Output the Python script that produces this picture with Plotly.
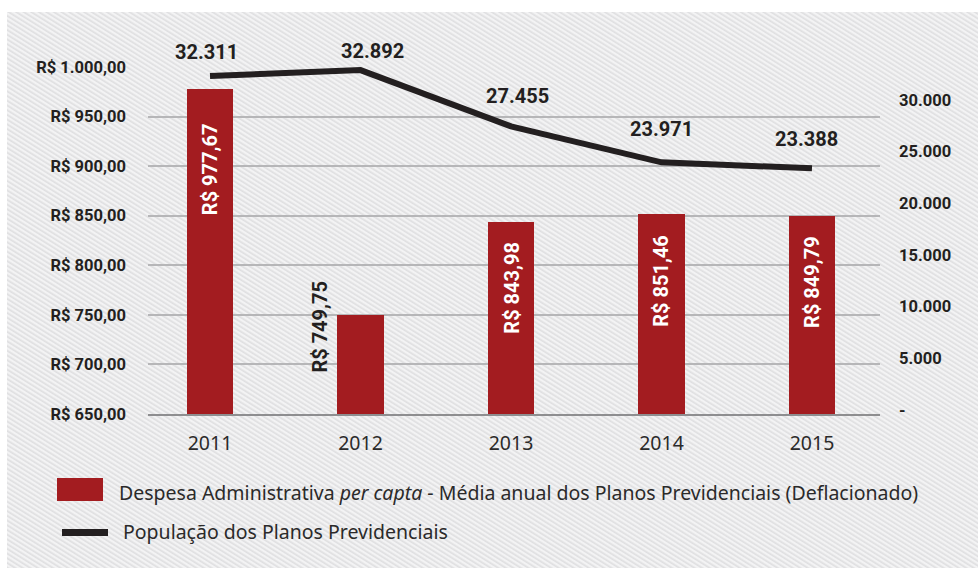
import base64
import plotly.graph_objects as go

# --- data -------------------------------------------------------------
years = ["2011", "2012", "2013", "2014", "2015"]
despesa = [977.67, 749.75, 843.98, 851.46, 849.79]          # R$ per capita (deflated)
populacao = [32311, 32892, 27455, 23971, 23388]             # plan population
left_ticks = [650, 700, 750, 800, 850, 900, 950, 1000]
right_ticks = [0, 5000, 10000, 15000, 20000, 25000, 30000]

legend_bar = "Despesa Administrativa <i>per capta</i> - Média anual dos Planos Previdenciais (Deflacionado)"
legend_line = "População dos Planos Previdenciais"


def brl(v):
    s = f"{v:,.2f}".replace(",", "X").replace(".", ",").replace("X", ".")
    return "R$ " + s


def milhar(v):
    return "-" if v == 0 else f"{v:,}".replace(",", ".")


# --- page geometry ----------------------------------------------------
W, H = 978, 568
L, R, T, B = 148, 98, 67, 154
PW, PH = W - L - R, H - T - B


def px(x):
    return (x - L) / PW


def py(y):
    return (H - B - y) / PH


BOLD = "Roboto, Liberation Sans, Arial, sans-serif"
REG = "Noto Sans, Open Sans, DejaVu Sans, sans-serif"
INK = "#231f20"
TXT = "#2b2a2a"
RED = "#a31c20"

# hatched panel behind the chart
hatch_svg = """<svg xmlns='http://www.w3.org/2000/svg' width='971' height='556' viewBox='0 0 971 556'>
<defs><pattern id='h' patternUnits='userSpaceOnUse' width='4' height='4' patternTransform='rotate(-58)'>
<rect width='4' height='4' fill='#f3f3f4'/><rect width='1.7' height='4' fill='#dfdfe1'/></pattern></defs>
<rect width='971' height='556' fill='url(#h)'/></svg>"""
hatch_uri = "data:image/svg+xml;base64," + base64.b64encode(hatch_svg.encode()).decode()

xs = list(range(len(years)))

fig = go.Figure()
fig.add_trace(go.Bar(
    x=xs, y=despesa, base=0, width=0.306, marker=dict(color=RED, line=dict(width=0)),
    yaxis="y", showlegend=False, hoverinfo="skip",
))
fig.add_trace(go.Scatter(
    x=xs, y=populacao, mode="lines", yaxis="y2",
    line=dict(color=INK, width=6), showlegend=False, hoverinfo="skip",
))

annotations = []

# population values above the line
pop_dx = [-4, 12, 7, 0, -5]
pop_dy = [24, 19, 30, 33, 29]
for i, v in enumerate(populacao):
    annotations.append(dict(
        x=xs[i], y=v, xref="x", yref="y2", text=milhar(v), showarrow=False,
        xshift=pop_dx[i], yshift=pop_dy[i], xanchor="center", yanchor="middle",
        font=dict(family=BOLD, size=20, color=INK, weight="bold"),
    ))

# vertical expense values on the bars
bar_dx = [0, -40, 1, 0, 0]
bar_dy = [-80, -12, -66, -66, -66]
bar_col = ["white", INK, "white", "white", "white"]
for i, v in enumerate(despesa):
    annotations.append(dict(
        x=xs[i], y=v, xref="x", yref="y", text=brl(v), showarrow=False,
        textangle=-90, xshift=bar_dx[i], yshift=bar_dy[i],
        xanchor="center", yanchor="middle",
        font=dict(family=BOLD, size=20, color=bar_col[i], weight="bold"),
    ))

# legend
annotations.append(dict(
    x=px(117), y=py(492), xref="paper", yref="paper", text=legend_bar, showarrow=False,
    xanchor="left", yanchor="middle", font=dict(family=REG, size=19.5, color=TXT),
))
annotations.append(dict(
    x=px(121), y=py(531), xref="paper", yref="paper", text=legend_line, showarrow=False,
    xanchor="left", yanchor="middle", font=dict(family=REG, size=19.5, color=TXT),
))

shapes = [
    dict(type="rect", xref="paper", yref="paper", x0=px(57), x1=px(103), y0=py(501), y1=py(478),
         fillcolor=RED, line=dict(width=0)),
    dict(type="line", xref="paper", yref="paper", x0=px(62), x1=px(108), y0=py(532.5), y1=py(532.5),
         line=dict(color=INK, width=7)),
]

fig.update_layout(
    width=W, height=H, margin=dict(l=L, r=R, t=T, b=B, pad=0),
    paper_bgcolor="white", plot_bgcolor="rgba(0,0,0,0)",
    bargap=0, showlegend=False,
    xaxis=dict(
        range=[-0.412, 4.452], tickmode="array", tickvals=xs, ticktext=years,
        showgrid=False, zeroline=False, showline=True, linecolor="#8e8e90", linewidth=2,
        ticks="", ticklabelstandoff=11, fixedrange=True,
        tickfont=dict(family=REG, size=19.5, color=TXT),
    ),
    yaxis=dict(
        range=[650, 1000], tickmode="array", tickvals=left_ticks,
        ticktext=[brl(v) for v in left_ticks],
        showgrid=True, gridcolor="#b6b6b8", gridwidth=1.5, zeroline=False, showline=False,
        ticks="", ticklabelstandoff=21, fixedrange=True,
        tickfont=dict(family=BOLD, size=16.5, color=INK, weight="bold"),
    ),
    yaxis2=dict(
        range=[-387, 33194], overlaying="y", side="right", tickmode="array",
        tickvals=right_ticks, ticktext=[milhar(v) for v in right_ticks],
        showgrid=False, zeroline=False, showline=False,
        ticks="", ticklabelstandoff=18, fixedrange=True,
        tickfont=dict(family=BOLD, size=16.5, color=INK, weight="bold"),
    ),
    images=[dict(
        source=hatch_uri, xref="paper", yref="paper",
        x=px(7), y=py(12), sizex=px(978) - px(7), sizey=py(12) - py(568),
        xanchor="left", yanchor="top", sizing="stretch", layer="below",
    )],
    annotations=annotations,
    shapes=shapes,
)

fig.write_html("out.html")
